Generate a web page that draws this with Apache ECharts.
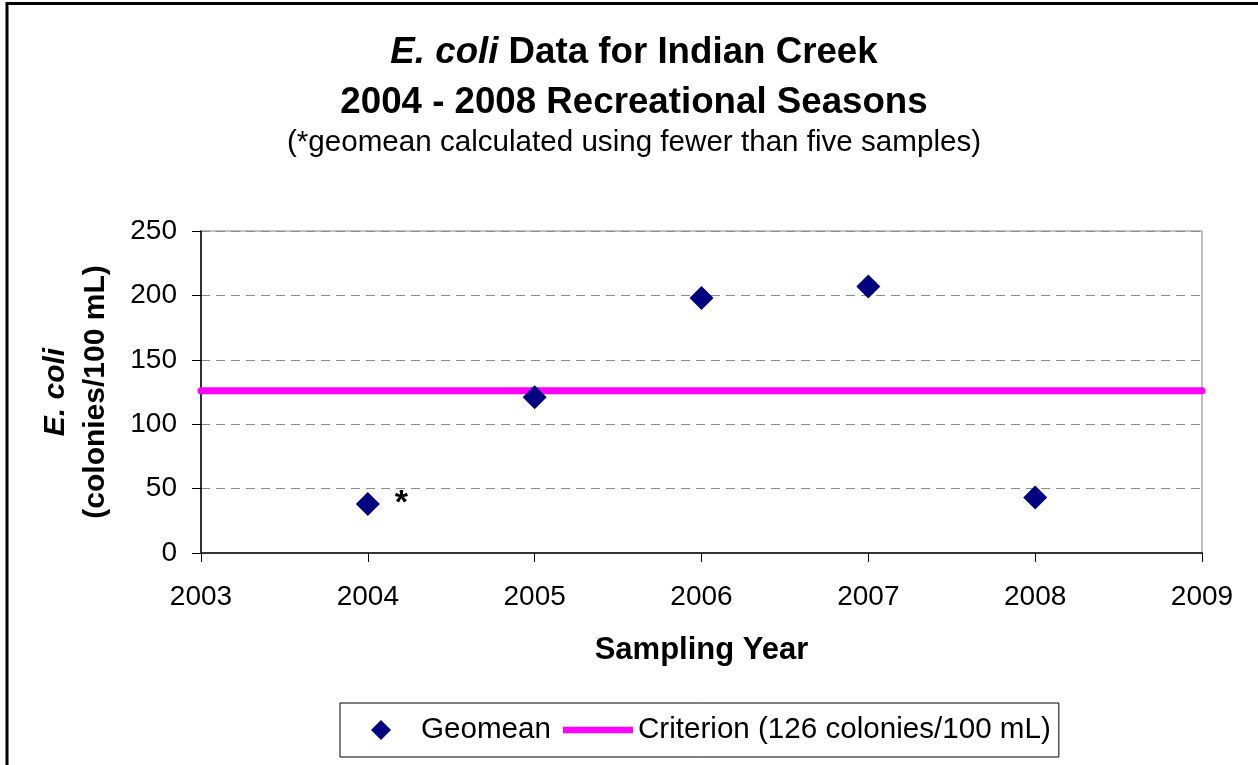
<!DOCTYPE html>
<html><head><meta charset="utf-8">
<script src="https://cdn.jsdelivr.net/npm/echarts@6/dist/echarts.min.js"></script>
<style>html,body{margin:0;padding:0;background:#fff}#c{width:1258px;height:765px}</style>
</head><body><div id="c"></div>
<script>
const years = [2004, 2005, 2006, 2007, 2008];
const geomean = [38, 121, 198, 207, 43];
const fewerThanFive = [true, false, false, false, false];
const criterionValue = 126;
const xTickLabels = [2003, 2004, 2005, 2006, 2007, 2008, 2009];
const yTickLabels = [0, 50, 100, 150, 200, 250];

const FONT = "'Liberation Sans', Arial, sans-serif";
const criterionName = 'Criterion (' + criterionValue + ' colonies/100 mL)';

const scatterData = years.map((y, i) => ({
  value: [y, geomean[i]],
  label: fewerThanFive[i]
    ? { show: true, formatter: '*', position: 'right', distance: 15, fontSize: 34, fontWeight: 'bold', color: '#000', fontFamily: FONT }
    : { show: false }
}));
const criterionData = [
  [xTickLabels[0], criterionValue],
  [xTickLabels[xTickLabels.length - 1], criterionValue]
];

const chart = echarts.init(document.getElementById('c'), null, { renderer: 'canvas' });
chart.setOption({
  animation: false,
  backgroundColor: '#fff',
  textStyle: { fontFamily: FONT },
  title: {
    left: 634, top: 28, textAlign: 'center', itemGap: 0, padding: 0,
    text: '{i|E. coli}{b| Data for Indian Creek}\n{b|2004 - 2008 Recreational Seasons}',
    textStyle: {
      fontSize: 36.7, fontWeight: 'bold', color: '#000', lineHeight: 50, fontFamily: FONT,
      rich: {
        i: { fontSize: 36.7, fontWeight: 'bold', fontStyle: 'italic', color: '#000', lineHeight: 50, fontFamily: FONT },
        b: { fontSize: 36.7, fontWeight: 'bold', color: '#000', lineHeight: 50, fontFamily: FONT }
      }
    },
    subtext: '(*geomean calculated using fewer than five samples)',
    subtextStyle: { fontSize: 29.6, color: '#000', lineHeight: 29, fontFamily: FONT }
  },
  graphic: [{
    type: 'rect', z: 100,
    shape: { x: 7, y: 3.5, width: 1400, height: 1000 },
    style: { fill: null, stroke: '#000', lineWidth: 3 }
  }],
  grid: {
    left: 201, right: 56, top: 231, bottom: 212,
    show: true, borderColor: '#808080', borderWidth: 1, backgroundColor: '#fff'
  },
  legend: {
    left: 340, top: 703, orient: 'horizontal',
    padding: [12, 8, 12, 31], itemGap: 12, itemWidth: 70, itemHeight: 20,
    borderColor: '#000', borderWidth: 1, backgroundColor: '#fff',
    textStyle: { fontSize: 29.6, color: '#000', fontFamily: FONT },
    data: [
      { name: 'Geomean', icon: 'path://M10,0L20,10L10,20L0,10Z' },
      { name: criterionName, icon: 'path://M0,0L70,0L70,6.5L0,6.5Z' }
    ]
  },
  xAxis: {
    type: 'value',
    min: xTickLabels[0], max: xTickLabels[xTickLabels.length - 1], interval: 1,
    name: 'Sampling Year', nameLocation: 'middle', nameGap: 82,
    nameTextStyle: { fontSize: 31, fontWeight: 'bold', color: '#000', fontFamily: FONT },
    axisLine: { show: true, lineStyle: { color: '#333', width: 2 } },
    axisTick: { show: true, inside: false, length: 9, lineStyle: { color: '#000', width: 1 } },
    axisLabel: { fontSize: 28, color: '#000', margin: 30, fontFamily: FONT, formatter: v => String(v) },
    splitLine: { show: false }
  },
  yAxis: {
    type: 'value',
    min: yTickLabels[0], max: yTickLabels[yTickLabels.length - 1], interval: 50,
    name: '{i|E. coli}\n{b|(colonies/100 mL)}', nameLocation: 'middle', nameRotate: 90, nameGap: 85,
    nameTextStyle: {
      fontSize: 30, fontWeight: 'bold', color: '#000', lineHeight: 40, fontFamily: FONT,
      rich: {
        i: { fontSize: 30, fontWeight: 'bold', fontStyle: 'italic', color: '#000', lineHeight: 40, fontFamily: FONT },
        b: { fontSize: 30, fontWeight: 'bold', color: '#000', lineHeight: 40, fontFamily: FONT }
      }
    },
    axisLine: { show: true, lineStyle: { color: '#000', width: 1.5 } },
    axisTick: { show: true, inside: false, length: 9, lineStyle: { color: '#000', width: 1 } },
    axisLabel: { fontSize: 28, color: '#000', margin: 24, fontFamily: FONT },
    splitLine: { show: true, lineStyle: { color: '#8c8c8c', width: 1, type: [9, 6] } }
  },
  series: [
    {
      name: criterionName, type: 'line', data: criterionData,
      symbol: 'none', z: 2,
      lineStyle: { color: '#FF00FF', width: 7, cap: 'round' },
      itemStyle: { color: '#FF00FF' }
    },
    {
      name: 'Geomean', type: 'scatter', data: scatterData,
      symbol: 'diamond', symbolSize: 24, z: 3,
      itemStyle: { color: '#000080', opacity: 1 }
    }
  ]
});
</script></body></html>
